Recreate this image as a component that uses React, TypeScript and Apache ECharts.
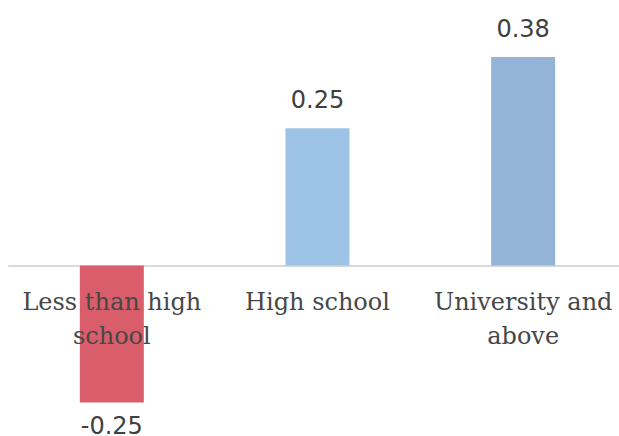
import React, { useEffect, useRef } from "react";
import * as echarts from "echarts";

const categories = ["Less than high\nschool", "High school", "University and\nabove"];
const values = [-0.25, 0.25, 0.38];
const barColors = ["#d95d6a", "#9dc3e6", "#93b3d7"];
const valueLabels = ["-0.25", "0.25", "0.38"];

export default function App() {
  const ref = useRef<HTMLDivElement>(null);
  useEffect(() => {
    document.body.style.margin = "0";
    const chart = echarts.init(ref.current!, null, { renderer: "svg" });
    chart.setOption({
      animation: false,
      backgroundColor: "#ffffff",
      grid: {
        left: 9,
        top: 46,
        width: 617,
        bottom: 6,
        containLabel: false,
        outerBoundsMode: "none",
      },
      xAxis: {
        type: "category",
        data: categories,
        axisLine: { show: true, onZero: true, lineStyle: { color: "#d9d9d9", width: 2 } },
        axisTick: { show: false },
        axisLabel: { show: false },
      },
      yAxis: {
        type: "value",
        min: -0.3,
        max: 0.4,
        show: false,
        splitLine: { show: false },
      },
      series: [
        {
          type: "bar",
          barWidth: 64,
          z: 2,
          data: values.map((v, i) => ({
            value: v,
            itemStyle: { color: barColors[i] },
            label: {
              show: true,
              position: v < 0 ? "bottom" : "top",
              distance: v < 0 ? 11 : 16,
              formatter: () => valueLabels[i],
              color: "#404040",
              fontFamily: "DejaVu Sans",
              fontSize: 24,
            },
          })),
        },
        {
          type: "bar",
          barWidth: 64,
          barGap: "-100%",
          z: 10,
          silent: true,
          itemStyle: { color: "transparent" },
          data: categories.map(() => 0),
          label: {
            show: true,
            position: "bottom",
            distance: 20,
            formatter: (p: any) => categories[p.dataIndex],
            color: "#474747",
            fontFamily: "DejaVu Serif",
            fontSize: 24,
            lineHeight: 34,
            align: "center",
          },
        },
      ],
    });
    return () => chart.dispose();
  }, []);
  return (
    <div
      ref={ref}
      style={{ position: "fixed", left: 0, top: 0, width: 619, height: 436 }}
    />
  );
}
